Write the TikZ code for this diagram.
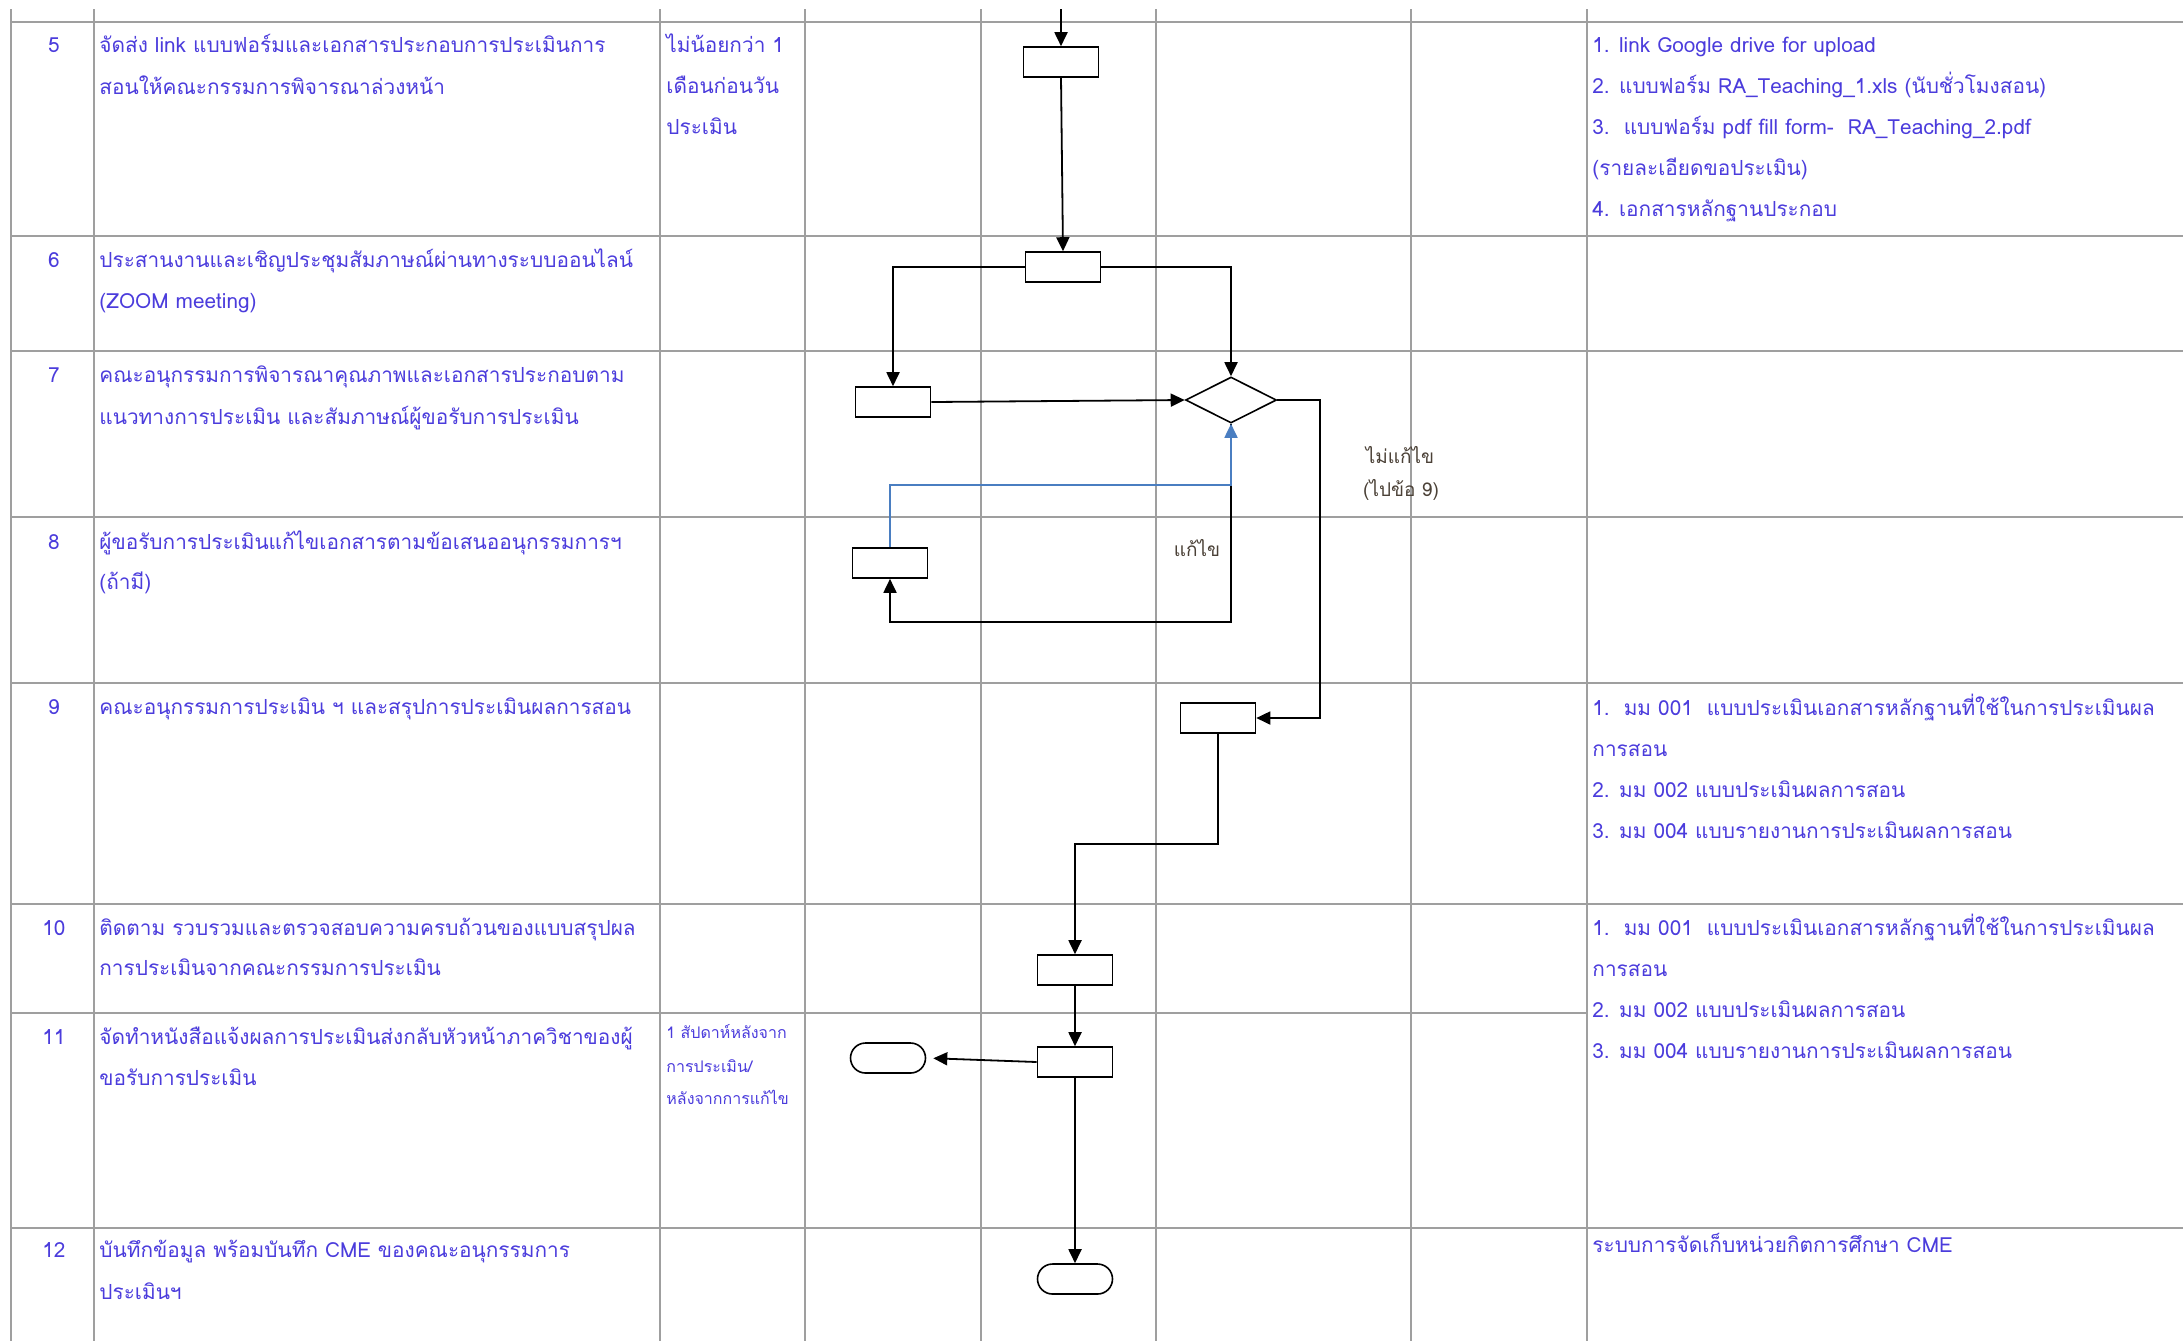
\documentclass[tikz,border=0pt]{standalone}
\usepackage{fontspec}
\usepackage{xcolor}
\usepackage{tikz}
\usetikzlibrary{arrows.meta,positioning,shapes.geometric}
\newfontfamily\thaifont[Script=Thai]{Loma}
\definecolor{txtblue}{RGB}{75,60,220}
\definecolor{fixblue}{RGB}{74,126,193}
\definecolor{lblgray}{RGB}{75,65,55}

\begin{document}
\begin{tikzpicture}[x=0.5pt,y=-0.5pt,
    txt/.style={font=\thaifont\fontsize{10.4}{12}\selectfont, text=txtblue, inner sep=0pt, anchor=base west},
    smalltxt/.style={txt, font=\thaifont\fontsize{8}{10}\selectfont},
    lbl/.style={font=\thaifont\fontsize{9.5}{11}\selectfont, text=lblgray, inner sep=0pt},
    procbox/.style={draw, line width=0.8pt, minimum width=37.5pt, minimum height=15pt, inner sep=0pt},
    endbox/.style={procbox, rounded corners=7.5pt},
    decbox/.style={draw, diamond, line width=0.8pt, minimum width=45.5pt, minimum height=23pt, inner sep=0pt},
    arr/.style={line width=0.9pt, -{Triangle[length=7pt,width=6.5pt]}},
    tableline/.style={gray!75, line width=0.9pt}]
        \useasboundingbox (0,0) rectangle (2183,1341);
        % table rules
        \foreach \x in {11,94,660,805,981,1156,1411,1587}
          \draw[tableline] (\x,9) -- (\x,1341);
        \foreach \y in {22,236,351,517,683,904,1228}
          \draw[tableline] (11,\y) -- (2183,\y);
        \draw[tableline] (11,1013) -- (1587,1013);

        % step numbers
        \foreach \n/\y in {5/52, 6/267, 7/382, 8/549, 9/714, 10/935, 11/1044, 12/1257}
          \node[txt, anchor=base] (no\n) at (54,\y) {\n};

        % step descriptions
        \foreach \t [count=\i from 0] in {จัดส่ง link  แบบฟอร์มและเอกสารประกอบการประเมินการ, สอนให้คณะกรรมการพิจารณาล่วงหน้า}
          \node[txt] (d5-\i) at (99,{52+42*\i}) {\t};
        \foreach \t [count=\i from 0] in {ประสานงานและเชิญประชุมสัมภาษณ์ผ่านทางระบบออนไลน์, (ZOOM meeting)}
          \node[txt] (d6-\i) at (99,{267+41*\i}) {\t};
        \foreach \t [count=\i from 0] in {คณะอนุกรรมการพิจารณาคุณภาพและเอกสารประกอบตาม, แนวทางการประเมิน และสัมภาษณ์ผู้ขอรับการประเมิน}
          \node[txt] (d7-\i) at (99,{382+42*\i}) {\t};
        \foreach \t [count=\i from 0] in {ผู้ขอรับการประเมินแก้ไขเอกสารตามข้อเสนออนุกรรมการฯ, (ถ้ามี)}
          \node[txt] (d8-\i) at (99,{549+40*\i}) {\t};
        \node[txt] (d9-0) at (99,714) {คณะอนุกรรมการประเมิน ฯ และสรุปการประเมินผลการสอน};
        \foreach \t [count=\i from 0] in {ติดตาม รวบรวมและตรวจสอบความครบถ้วนของแบบสรุปผล, การประเมินจากคณะกรรมการประเมิน}
          \node[txt] (d10-\i) at (99,{935+40*\i}) {\t};
        \foreach \t [count=\i from 0] in {จัดทำหนังสือแจ้งผลการประเมินส่งกลับหัวหน้าภาควิชาของผู้, ขอรับการประเมิน}
          \node[txt] (d11-\i) at (99,{1044+41*\i}) {\t};
        \foreach \t [count=\i from 0] in {บันทึกข้อมูล พร้อมบันทึก CME ของคณะอนุกรรมการ, ประเมินฯ}
          \node[txt] (d12-\i) at (99,{1257+42*\i}) {\t};

        % time frame
        \foreach \t [count=\i from 0] in {ไม่น้อยกว่า 1, เดือนก่อนวัน, ประเมิน}
          \node[txt] (t5-\i) at (666,{52+41*\i}) {\t};
        \node[smalltxt] (t11-0) at (666,1038) {1 สัปดาห์หลังจาก};
        \node[smalltxt] (t11-1) at (666,1072) {การประเมิน/};
        \node[smalltxt] (t11-2) at (666,1104) {หลังจากการแก้ไข};

        % documents
        \foreach \t [count=\i from 0] in {1. link Google drive for upload, 2. แบบฟอร์ม RA\_Teaching\_1.xls (นับชั่วโมงสอน), 3.\ \ แบบฟอร์ม pdf fill form-\ \ RA\_Teaching\_2.pdf, (รายละเอียดขอประเมิน), 4. เอกสารหลักฐานประกอบ}
          \node[txt] (f5-\i) at (1592,{52+41*\i}) {\t};
        \foreach \t [count=\i from 0] in {1.\ \ มม 001\ \ แบบประเมินเอกสารหลักฐานที่ใช้ในการประเมินผล, การสอน, 2. มม 002 แบบประเมินผลการสอน, 3. มม 004 แบบรายงานการประเมินผลการสอน}
          \node[txt] (f9-\i) at (1592,{715+41*\i}) {\t};
        \foreach \t [count=\i from 0] in {1.\ \ มม 001\ \ แบบประเมินเอกสารหลักฐานที่ใช้ในการประเมินผล, การสอน, 2. มม 002 แบบประเมินผลการสอน, 3. มม 004 แบบรายงานการประเมินผลการสอน}
          \node[txt] (f10-\i) at (1592,{935+41*\i}) {\t};
        \node[txt] (f12-0) at (1592,1252) {ระบบการจัดเก็บหน่วยกิตการศึกษา CME};

        % flow shapes
        \node[procbox] (p5) at (1061,62) {};
        \node[procbox] (p6) at (1063,267) {};
        \node[procbox] (p7) at (893,402) {};
        \node[decbox] (dec7) at (1231,400) {};
        \node[procbox] (p8) at (890,563) {};
        \node[procbox] (p9) at (1218,718) {};
        \node[procbox] (p10) at (1075,970) {};
        \node[procbox] (p11) at (1075,1062) {};
        \node[endbox] (end11) at (888,1058) {};
        \node[endbox] (end12) at (1075,1279) {};

        \coordinate (in5) at (1061,9);
        \coordinate (nofix) at (1320,400);
        \coordinate (fixdown) at (1231,622);
        \coordinate (fixback) at (1231,485);
        \coordinate (turn9) at (1218,844);

        % connectors
        \draw[arr] (in5) -- (p5);
        \draw[arr] (p5.south) -- (p6.north);
        \draw[arr] (p6.west) -| (p7.north);
        \draw[arr] (p6.east) -| (dec7.north);
        \draw[arr] (p7.east) -- (dec7.west);
        \draw[arr] (dec7.east) -- (nofix) |- (p9.east);
        \draw[arr] (dec7.south) -- (fixdown) -| (p8.south);
        \draw[arr, fixblue] (p8.north) |- (fixback) -- (dec7.south);
        \draw[arr] (p9.south) -- (turn9) -| (p10.north);
        \draw[arr] (p10) -- (p11);
        \draw[arr, shorten >=3.5pt] (p11.west) -- (end11.east);
        \draw[arr] (p11) -- (end12);

        % branch labels
        \node[lbl] (fixlbl) at (1197,548) {แก้ไข};
        \node[lbl] (nofixlbl) at (1400,455) {ไม่แก้ไข};
        \node[lbl] (gotolbl) at (1401,490) {(ไปข้อ 9)};
      \end{tikzpicture}
\end{document}
